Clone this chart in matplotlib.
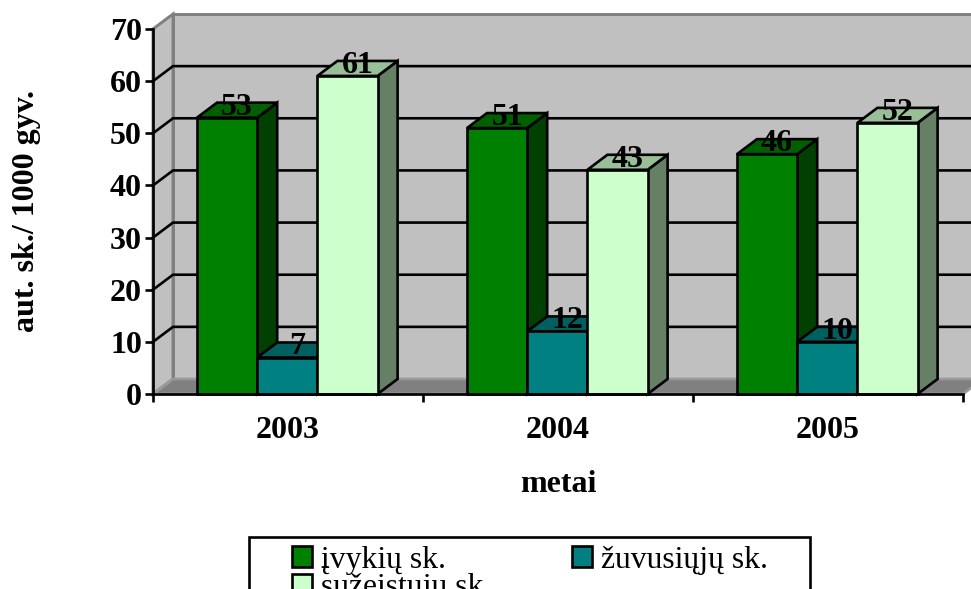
import matplotlib
matplotlib.use("Agg")
import matplotlib.pyplot as plt
from matplotlib.patches import Patch, Polygon, Rectangle

years = ["2003", "2004", "2005"]
series_names = ["įvykių sk.", "žuvusiųjų sk.", "sužeistųjų sk."]
ivykiu = [53, 51, 46]
zuvusiuju = [7, 12, 10]
suzeistuju = [61, 43, 52]
y_ticks = [0, 10, 20, 30, 40, 50, 60, 70]

front = ["#008000", "#008080", "#CCFFCC"]
top = ["#006000", "#006060", "#99BF99"]
side = ["#004000", "#004040", "#668066"]
values = [ivykiu, zuvusiuju, suzeistuju]

W, H = 971, 589
plt.rcParams["font.family"] = ["Liberation Serif", "DejaVu Serif"]
fig = plt.figure(figsize=(W / 100, H / 100), dpi=100, facecolor="white")
ax = fig.add_axes([153 / W, (H - 394) / H, 810 / W, 365 / H])
ax.set_xlim(0, 3)
ax.set_ylim(0, 70)

DX = 20 / 270
DY = 15 / 365 * 70
BW = 60.2 / 270
LEFT = 44 / 270
LW = 1.9
FS = 23


def poly(pts, fc, ec="black", z=2, lw=LW):
    ax.add_patch(Polygon(pts, closed=True, facecolor=fc, edgecolor=ec, linewidth=lw,
                         zorder=z, clip_on=False, joinstyle="miter"))


# back wall, side wall, floor
poly([(DX, DY), (3 + DX, DY), (3 + DX, 70 + DY), (DX, 70 + DY)], "#C0C0C0", "#808080", 1, 2.1)
poly([(0, 0), (DX, DY), (DX, 70 + DY), (0, 70)], "#C0C0C0", "#808080", 1, 2.1)
poly([(0, 0), (DX, DY), (3 + DX, DY), (3, 0)], "#808080", "#999999", 1.2)
for v in y_ticks[1:-1]:
    ax.plot([0, DX, 3 + DX], [v, v + DY, v + DY], color="black", lw=LW, zorder=1.5,
            clip_on=False, solid_joinstyle="miter")

# bars
for c in range(len(years)):
    for s, vals in enumerate(values):
        v = vals[c]
        x0 = c + LEFT + s * BW
        x1 = x0 + BW
        poly([(x1, 0), (x1 + DX, DY), (x1 + DX, v + DY), (x1, v)], side[s], z=3 + c + s * 0.1)
        poly([(x0, v), (x1, v), (x1 + DX, v + DY), (x0 + DX, v + DY)], top[s], z=3 + c + s * 0.1)
        ax.bar(x0, v, width=BW, align="edge", color=front[s], edgecolor="black",
               linewidth=LW, zorder=3 + c + s * 0.1 + 0.01, clip_on=False)
        ax.annotate(str(v), (x0 + BW / 2 + DX / 2, v), xytext=(0, 2.2), textcoords="offset points",
                    ha="center", va="baseline", fontsize=FS, fontweight="bold", color="black",
                    zorder=20, annotation_clip=False)

# axes
for sp in ("top", "right"):
    ax.spines[sp].set_visible(False)
for sp in ("left", "bottom"):
    ax.spines[sp].set_linewidth(LW)
    ax.spines[sp].set_zorder(15)
ax.set_yticks(y_ticks)
ax.set_yticklabels([str(v) for v in y_ticks], fontsize=FS, fontweight="bold")
ax.set_xticks([0, 1, 2, 3])
ax.set_xticklabels([])
ax.set_xticks([0.5, 1.5, 2.5], labels=years, minor=True, fontsize=FS, fontweight="bold")
ax.tick_params(axis="x", which="major", length=5.5, width=LW)
ax.tick_params(axis="x", which="minor", length=0, pad=16)
ax.tick_params(axis="y", length=5.5, width=LW, pad=2.5)
ax.set_xlabel("metai", fontsize=FS, fontweight="bold", labelpad=18)
ax.set_ylabel("aut. sk./ 1000 gyv.", fontsize=FS, fontweight="bold")
ax.yaxis.set_label_coords((41 - 153) / 810, 0.5)

# legend frame runs past the bottom edge, as in the reference
fig.add_artist(Rectangle((249 / W, -0.1), (810 - 249) / W, (H - 537) / H + 0.1,
                         transform=fig.transFigure, facecolor="white", edgecolor="black",
                         linewidth=LW, zorder=5))
order = [0, 2, 1]  # matplotlib fills columns first; this reads row by row
handles = [Patch(facecolor=front[i], edgecolor="black", linewidth=LW) for i in order]
labels = [series_names[i] for i in order]
leg = fig.legend(handles, labels, ncols=2, loc="upper left",
                 bbox_to_anchor=(292 / W, (H - 546) / H), bbox_transform=fig.transFigure,
                 frameon=False, fontsize=22.8, borderaxespad=0, borderpad=0,
                 labelspacing=-0.05, handlelength=0.63, handleheight=0.63,
                 handletextpad=0.27, columnspacing=2.57)
leg.set_zorder(6)

fig.savefig("out.png", dpi=100, facecolor="white")
